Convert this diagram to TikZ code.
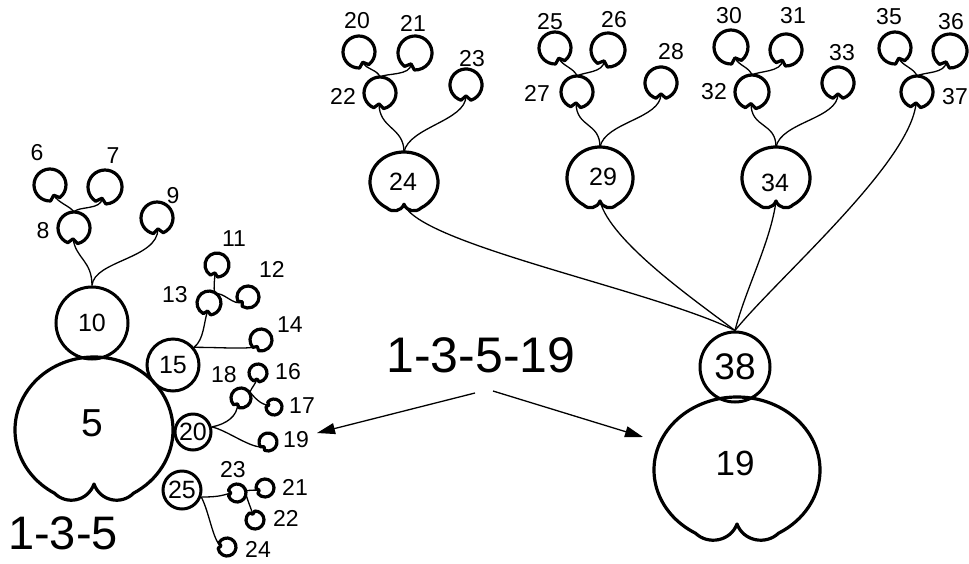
\documentclass[tikz,border=0pt]{standalone}
\usepackage{fontspec}
\setmainfont{Liberation Sans}
\usetikzlibrary{calc,arrows.meta}
\newcommand\apple[5]{%
  \coordinate (#1) at (#2,#3);
  \coordinate (#1n) at ($(#1)+(#5:{0.68*#4})$);
  \coordinate (#1t) at ($(#1)+(0,-#4)$);
  \draw[cellline] ($(#1)+({#5+18}:#4)$) arc[start angle={#5+18},end angle={#5+342},radius=#4] -- (#1n) -- cycle;
}
\newcommand\bigcell[5]{%
  \coordinate (#1) at (#2,#3);
  \coordinate (#1n) at ($(#1)+(0,{0.74*#5})$);
  \coordinate (#1t) at ($(#1)+(0,-#5)$);
  \draw[cellline] ($(#1)+(120:{#4} and {#5})$) arc[start angle=120,end angle=420,x radius=#4,y radius=#5]
    .. controls ($(#1)+({0.35*#4},{1.03*#5})$) and ($(#1)+({0.08*#4},{0.98*#5})$) .. (#1n)
    .. controls ($(#1)+({-0.08*#4},{0.98*#5})$) and ($(#1)+({-0.35*#4},{1.03*#5})$) .. cycle;
}
\begin{document}
\begin{tikzpicture}[x=1pt,y=-1pt,
  cellline/.style={line width=3.2pt,line join=round},
  stem/.style={line width=1.3pt},
  ring/.style={circle,draw,line width=3pt,inner sep=0pt},
  lab/.style={font=\fontsize{23}{23}\selectfont,inner sep=0pt},
  tlab/.style={font=\fontsize{23}{23}\selectfont,inner sep=0pt},
  mid/.style={font=\fontsize{25}{25}\selectfont,inner sep=0pt},
  arr/.style={line width=1.3pt,-{Triangle[length=18pt,width=11pt]}}]
\useasboundingbox (0,0) rectangle (969,563);

% ---------------- left group ----------------
\bigcell{c5}{94}{430}{79}{73}
\node[ring,minimum size=72pt] (C10) at (92,323) {};
\node[ring,minimum size=52pt] (C15) at (173,365) {};
\node[ring,minimum size=36pt] (C20) at (193,432) {};
\node[ring,minimum size=38pt] (C25) at (182,490) {};
\node[font=\fontsize{39}{39}\selectfont,inner sep=0pt] (l5) at (92,423) {5};
\node[mid] (l10) at (C10) {10};
\node[mid] (l15) at (C15) {15};
\node[mid] (l20) at (C20) {20};
\node[mid] (l25) at (C25) {25};

\apple{a6}{50}{185}{16}{70}
\apple{a7}{105}{187}{17}{105}
\apple{a8}{74}{228}{16}{95}
\apple{a9}{157}{218}{16}{85}
\apple{a11}{217}{265}{12}{105}
\apple{a12}{248}{297}{11}{140}
\apple{a13}{209}{303}{12}{100}
\apple{a14}{261}{340}{11}{120}
\apple{a16}{258}{373}{9}{100}
\apple{a17}{274}{407}{8}{200}
\apple{a18}{241}{398}{10}{120}
\apple{a19}{268}{442}{9}{130}
\apple{a21}{265}{488}{9}{160}
\apple{a22}{255}{520}{9}{250}
\apple{a23}{237}{493}{9}{180}
\apple{a24}{227}{547}{9}{190}

\coordinate (J13) at ($(a13)+(6,-9)$);
\coordinate (J18) at ($(a18)+(9,-6)$);
\coordinate (J23) at ($(a23)+(8,-2)$);

\draw[stem] (C10.north) .. controls +(0,-25) and +(3,20) .. (a8n);
\draw[stem] (C10.north) .. controls +(2,-25) and +(0,30) .. (a9n);
\draw[stem] (a6n) .. controls +(5,8) and +(-4,-6) .. (a8t);
\draw[stem] (a7n) .. controls +(0,12) and +(4,-6) .. (a8t);
\draw[stem] (C15.40) .. controls +(10,-8) and +(-4,12) .. (a13n);
\draw[stem] (C15.40) .. controls +(30,0) and +(-12,3) .. (a14n);
\draw[stem] (a11n) .. controls +(0,8) and +(-2,-8) .. (J13);
\draw[stem] (a12n) .. controls +(-8,5) and +(8,-3) .. (J13);
\draw[stem] (C20.15) .. controls +(15,-3) and +(0,12) .. (a18n);
\draw[stem] (C20.15) .. controls +(15,3) and +(-12,3) .. (a19n);
\draw[stem] (a16n) .. controls +(-2,6) and +(2,-5) .. (J18);
\draw[stem] (a17n) .. controls +(-8,0) and +(4,5) .. (J18);
\draw[stem] (C25.-20) .. controls +(15,0) and +(-10,3) .. (a23n);
\draw[stem] (C25.-20) .. controls +(8,15) and +(-8,-5) .. (a24n);
\draw[stem] (J23) .. controls +(5,-1) and +(-5,0) .. (a21n);
\draw[stem] (J23) .. controls +(2,8) and +(-2,-6) .. (a22n);

\node[lab] (n6) at (37,153) {6};
\node[lab] (n7) at (113,156) {7};
\node[lab] (n8) at (43,231) {8};
\node[lab] (n9) at (173,196) {9};
\node[lab] (n11) at (234,239) {11};
\node[lab] (n12) at (272,269) {12};
\node[lab] (n13) at (175,295) {13};
\node[lab] (n14) at (290,325) {14};
\node[lab] (n16) at (288,372) {16};
\node[lab] (n17) at (302,406) {17};
\node[lab] (n18) at (224,375) {18};
\node[lab] (n19) at (296,440) {19};
\node[lab] (n23) at (233,470) {23};
\node[lab] (n21) at (295,487) {21};
\node[lab] (n22) at (286,518) {22};
\node[lab] (n24) at (258,549) {24};
\node[font=\fontsize{47}{47}\selectfont,inner sep=0pt] (t135) at (63,533) {1-3-5};

% ---------------- right group ----------------
\bigcell{c19}{737}{470}{83}{73}
\node[ring,minimum size=70pt] (C38) at (735,367) {};
\node[font=\fontsize{37}{37}\selectfont,inner sep=0pt] (l38) at (C38) {38};
\node[font=\fontsize{35}{35}\selectfont,inner sep=0pt] (l19) at (735,463) {19};

\bigcell{c24}{404}{182}{34}{30}
\bigcell{c29}{600}{178}{33}{31}
\bigcell{c34}{776}{178}{34}{31}
\node[mid] (l24) at (403,182) {24};
\node[mid] (l29) at (603,177) {29};
\node[mid] (l34) at (775,183) {34};

\apple{t20}{359}{52}{16}{70}
\apple{t21}{415}{53}{17}{110}
\apple{t22}{380}{93}{16}{95}
\apple{t23}{466}{85}{16}{90}
\apple{t25}{555}{48}{16}{70}
\apple{t26}{608}{50}{17}{110}
\apple{t27}{577}{92}{16}{95}
\apple{t28}{661}{83}{16}{90}
\apple{t30}{731}{47}{17}{70}
\apple{t31}{786}{50}{16}{110}
\apple{t32}{752}{92}{17}{95}
\apple{t33}{838}{83}{16}{90}
\apple{t35}{895}{48}{16}{70}
\apple{t36}{950}{51}{17}{110}
\apple{t37}{917}{92}{16}{95}

\foreach \A/\B/\C/\D/\K in {t20/t21/t22/t23/c24, t25/t26/t27/t28/c29, t30/t31/t32/t33/c34}{
  \draw[stem] (\A n) .. controls +(4,8) and +(-3,-8) .. (\C t);
  \draw[stem] (\B n) .. controls +(0,12) and +(6,-4) .. (\C t);
  \draw[stem] (\K t) .. controls +(0,-25) and +(0,25) .. (\C n);
  \draw[stem] (\K t) .. controls +(5,-25) and +(0,25) .. (\D n);
}
\draw[stem] (t35n) .. controls +(4,8) and +(-3,-8) .. (t37t);
\draw[stem] (t36n) .. controls +(0,12) and +(6,-4) .. (t37t);

\draw[stem] (c24n) .. controls +(15,40) and +(-80,-40) .. (C38.north);
\draw[stem] (c29n) .. controls +(10,40) and +(-40,-30) .. (C38.north);
\draw[stem] (c34n) .. controls +(-5,40) and +(10,-40) .. (C38.north);
\draw[stem] (t37n) .. controls +(-5,60) and +(40,-50) .. (C38.north);

\node[tlab] (m20) at (357,21) {20};
\node[tlab] (m21) at (413,23) {21};
\node[tlab] (m22) at (343,96) {22};
\node[tlab] (m23) at (472,59) {23};
\node[tlab] (m25) at (550,22) {25};
\node[tlab] (m26) at (614,20) {26};
\node[tlab] (m27) at (537,93) {27};
\node[tlab] (m28) at (671,52) {28};
\node[tlab] (m30) at (729,16) {30};
\node[tlab] (m31) at (793,16) {31};
\node[tlab] (m32) at (714,92) {32};
\node[tlab] (m33) at (842,53) {33};
\node[tlab] (m35) at (889,17) {35};
\node[tlab] (m36) at (951,22) {36};
\node[tlab] (m37) at (955,97) {37};

% ---------------- centre ----------------
\node[font=\fontsize{50}{50}\selectfont,inner sep=0pt] (t13519) at (481,355) {1-3-5-19};
\coordinate (arL0) at (475,393);
\coordinate (arL1) at (317,433);
\coordinate (arR0) at (493,391);
\coordinate (arR1) at (643,437);
\draw[arr] (arL0) -- (arL1);
\draw[arr] (arR0) -- (arR1);
\end{tikzpicture}
\end{document}
